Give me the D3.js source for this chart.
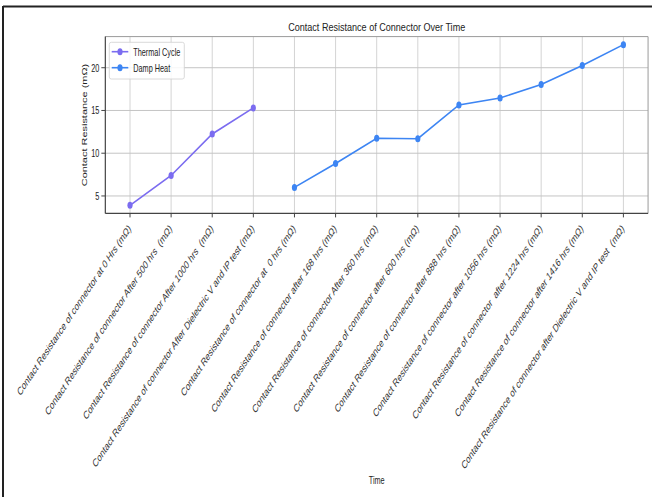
<!DOCTYPE html>
<html>
<head>
<meta charset="utf-8">
<script src="https://cdn.jsdelivr.net/npm/d3@7"></script>
<style>
  html, body { margin: 0; padding: 0; background: #fff; }
  svg { display: block; }
  text { font-family: "Liberation Sans", Arial, sans-serif; white-space: pre; }
</style>
</head>
<body>
<svg id="chart" width="652" height="497"></svg>
<script>
// Category labels along the x axis (thermal cycle steps, then damp heat steps)
const thermalLabels = [
  "Contact Resistance of connector at 0 Hrs (mΩ)",
  "Contact Resistance of connector After 500 hrs  (mΩ)",
  "Contact Resistance of connector After 1000 hrs  (mΩ)",
  "Contact Resistance of connector After Dielectric V and IP test (mΩ)"
];
const dampLabels = [
  "Contact Resistance of connector at  0 hrs (mΩ)",
  "Contact Resistance of connector after 168 hrs (mΩ)",
  "Contact Resistance of connector After 360 hrs (mΩ)",
  "Contact Resistance of connector after 600 hrs (mΩ)",
  "Contact Resistance of connector after 888 hrs (mΩ)",
  "Contact Resistance of connector after 1056 hrs (mΩ)",
  "Contact Resistance of connector  after 1224 hrs (mΩ)",
  "Contact Resistance of connector after 1416 hrs (mΩ)",
  "Contact Resistance of connector after Dielectric V and IP test  (mΩ)"
];
// Contact resistance readings (mΩ)
const thermalValues = [3.9, 7.4, 12.25, 15.3];
const dampValues = [6.0, 8.8, 11.75, 11.7, 15.65, 16.45, 18.05, 20.25, 22.7];
const yTicks = [5, 10, 15, 20];
const seriesNames = ["Thermal Cycle", "Damp Heat"];
const seriesColors = ["#7B6CF0", "#3D85F3"];

const titleText = "Contact Resistance of Connector Over Time";
const xTitle = "Time";
const yTitle = "Contact Resistance (mΩ)";

const svg = d3.select("#chart");
const SY = 1.5;            // vertical stretch of the whole figure
const FS = 7.3;            // base font size

// outer frame (top and left edges)
svg.append("line").attr("x1", 3).attr("x2", 652).attr("y1", 6.5).attr("y2", 6.5)
  .attr("stroke", "#222").attr("stroke-width", 2);
svg.append("line").attr("x1", 3).attr("x2", 3).attr("y1", 6).attr("y2", 497)
  .attr("stroke", "#222").attr("stroke-width", 2);

const allLabels = thermalLabels.concat(dampLabels);
const x = d3.scalePoint().domain(allLabels).range([130, 623.4]);
const span = x.range()[1] - x.range()[0];
const plotLeft = x.range()[0] - 0.05 * span, plotRight = x.range()[1] + 0.05 * span;

const allVals = thermalValues.concat(dampValues);
const [vmin, vmax] = d3.extent(allVals);
const vpad = 0.05 * (vmax - vmin);
const y = d3.scaleLinear().domain([vmin - vpad, vmax + vpad]).range([213.4, 36.6]);
const plotTop = y.range()[1], plotBottom = y.range()[0];

// grid
const g = svg.append("g");
g.selectAll(".vgrid").data(allLabels).join("line")
  .attr("x1", d => x(d)).attr("x2", d => x(d)).attr("y1", plotTop).attr("y2", plotBottom)
  .attr("stroke", "#d4d4d4").attr("stroke-width", 1);
g.selectAll(".hgrid").data(yTicks).join("line")
  .attr("x1", plotLeft).attr("x2", plotRight).attr("y1", d => y(d)).attr("y2", d => y(d))
  .attr("stroke", "#c4c4c4").attr("stroke-width", 1);

// spines
g.append("line").attr("x1", plotLeft).attr("x2", plotRight).attr("y1", plotTop).attr("y2", plotTop)
  .attr("stroke", "#9a9a9a").attr("stroke-width", 1);
g.append("line").attr("x1", plotRight).attr("x2", plotRight).attr("y1", plotTop).attr("y2", plotBottom)
  .attr("stroke", "#9a9a9a").attr("stroke-width", 1);
g.append("line").attr("x1", plotLeft).attr("x2", plotLeft).attr("y1", plotTop).attr("y2", plotBottom)
  .attr("stroke", "#444").attr("stroke-width", 1.2);
g.append("line").attr("x1", plotLeft).attr("x2", plotRight).attr("y1", plotBottom).attr("y2", plotBottom)
  .attr("stroke", "#444").attr("stroke-width", 1.2);

// tick marks
g.selectAll(".xt").data(allLabels).join("line")
  .attr("x1", d => x(d)).attr("x2", d => x(d)).attr("y1", plotBottom).attr("y2", plotBottom + 4)
  .attr("stroke", "#444").attr("stroke-width", 1);
g.selectAll(".yt").data(yTicks).join("line")
  .attr("x1", plotLeft - 4).attr("x2", plotLeft).attr("y1", d => y(d)).attr("y2", d => y(d))
  .attr("stroke", "#444").attr("stroke-width", 1);

// y tick labels
g.selectAll(".ytl").data(yTicks).join("text")
  .attr("transform", d => `translate(${plotLeft - 6},${y(d)}) scale(1,${SY})`)
  .attr("text-anchor", "end").attr("dy", "0.35em")
  .attr("font-size", FS).attr("fill", "#222").text(d => d);

// x tick labels, rotated
g.selectAll(".xtl").data(allLabels).join("text")
  .attr("transform", d => `translate(${x(d) + 1.5},${plotBottom + 16}) scale(1,${SY}) rotate(-45)`)
  .attr("text-anchor", "end")
  .attr("font-size", 7.6).attr("fill", "#333").text(d => d);

// series
const series = [
  { name: seriesNames[0], color: seriesColors[0], labels: thermalLabels, values: thermalValues },
  { name: seriesNames[1], color: seriesColors[1], labels: dampLabels, values: dampValues }
];
const line = d3.line().x(d => x(d[0])).y(d => y(d[1]));
series.forEach(s => {
  const pts = s.labels.map((l, i) => [l, s.values[i]]);
  svg.append("path").datum(pts).attr("d", line)
    .attr("fill", "none").attr("stroke", s.color).attr("stroke-width", 1.6);
  svg.append("g").selectAll("ellipse").data(pts).join("ellipse")
    .attr("cx", d => x(d[0])).attr("cy", d => y(d[1]))
    .attr("rx", 2.6).attr("ry", 3.5).attr("fill", s.color);
});

// legend
const lg = svg.append("g");
lg.append("rect").attr("x", 109.3).attr("y", 42.3).attr("width", 75).attr("height", 36.7)
  .attr("rx", 2).attr("fill", "#fff").attr("fill-opacity", 0.85)
  .attr("stroke", "#d0d0d0").attr("stroke-width", 0.8);
series.forEach((s, i) => {
  const ly = 51.7 + i * 16;
  lg.append("line").attr("x1", 111.7).attr("x2", 128.3).attr("y1", ly).attr("y2", ly)
    .attr("stroke", s.color).attr("stroke-width", 1.6);
  lg.append("ellipse").attr("cx", 120).attr("cy", ly).attr("rx", 2.6).attr("ry", 3.5)
    .attr("fill", s.color);
  lg.append("text").attr("transform", `translate(133.3,${ly}) scale(1,${SY})`)
    .attr("dy", "0.35em").attr("font-size", FS).attr("fill", "#222").text(s.name);
});

// titles
svg.append("text").attr("transform", `translate(${(plotLeft + plotRight) / 2},27) scale(1,1.25)`)
  .attr("text-anchor", "middle").attr("dy", "0.35em")
  .attr("font-size", 9.2).attr("textLength", 177).attr("lengthAdjust", "spacingAndGlyphs")
  .attr("fill", "#222").text(titleText);
svg.append("text").attr("transform", `translate(${(plotLeft + plotRight) / 2},480) scale(1,${SY})`)
  .attr("text-anchor", "middle").attr("dy", "0.35em")
  .attr("font-size", FS).attr("fill", "#222").text(xTitle);
svg.append("text").attr("transform", `translate(84,${(plotTop + plotBottom) / 2}) scale(1,${SY}) rotate(-90)`)
  .attr("text-anchor", "middle").attr("dy", "0.35em")
  .attr("font-size", FS).attr("fill", "#222").text(yTitle);
</script>
</body>
</html>
